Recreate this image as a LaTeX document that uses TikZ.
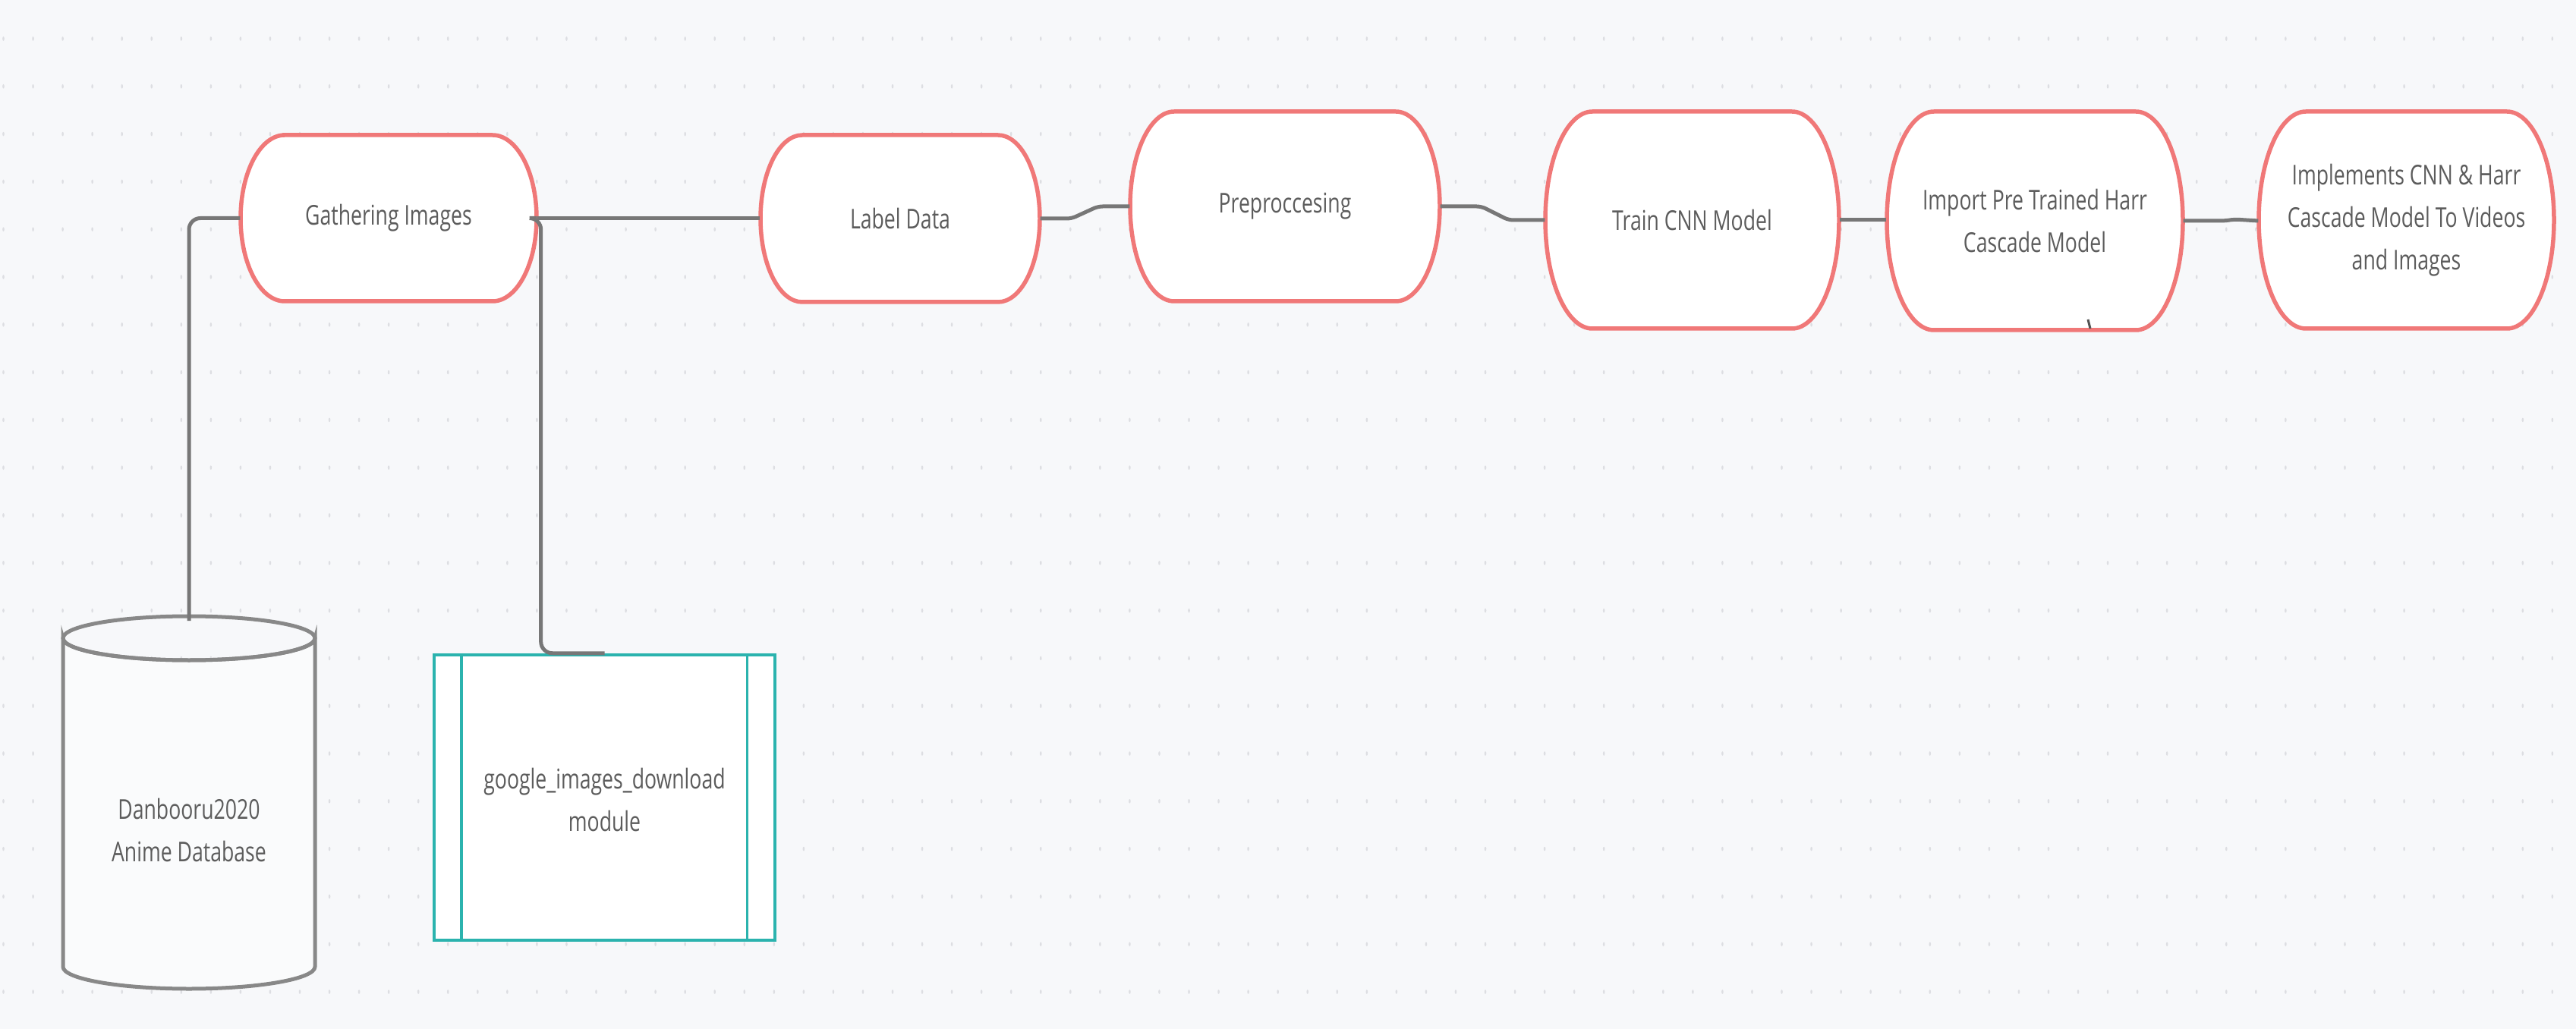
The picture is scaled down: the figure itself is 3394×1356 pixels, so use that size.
\documentclass[tikz,border=0pt]{standalone}
\usepackage{fontspec}
\setmainfont{Open Sans}[FakeStretch=0.74]
\definecolor{bgc}{HTML}{F7F8FA}
\definecolor{dotc}{HTML}{DDDEE2}
\definecolor{redc}{HTML}{F07878}
\definecolor{connc}{HTML}{777777}
\definecolor{cylc}{HTML}{888888}
\definecolor{tealc}{HTML}{2BB3AE}
\definecolor{txtc}{HTML}{5C5C5C}
\newcommand{\stadium}[7]{%
  \pgfmathsetmacro\sxl{#2-#4/2}%
  \pgfmathsetmacro\sxr{#2+#4/2}%
  \pgfmathsetmacro\syt{#3-#5/2}%
  \pgfmathsetmacro\syb{#3+#5/2}%
  \pgfmathsetmacro\shh{#5/2}%
  \path[stadline] (\sxl+#6,\syt) -- (\sxr-#6,\syt)
     arc[start angle=-90,end angle=90,x radius=#6,y radius=\shh]
     -- (\sxl+#6,\syb)
     arc[start angle=90,end angle=270,x radius=#6,y radius=\shh] -- cycle;
  \node[lbl, minimum width=#4*0.1mm, minimum height=#5*0.1mm] (#1) at (#2,#3) {#7};
}
\begin{document}
\begin{tikzpicture}[x=0.1mm,y=-0.1mm,
  conn/.style={draw=connc, line width=0.5mm, rounded corners=1.5mm},
  stadline/.style={draw=redc, fill=white, line width=0.55mm},
  lbl/.style={text=txtc, font=\fontsize{10.24}{15.9}\selectfont, align=center, inner sep=0pt},
  cylst/.style={draw=cylc, fill=bgc!60!white, line width=0.5mm},
  modbox/.style={draw=tealc, fill=white, line width=0.45mm, inner sep=0pt},
  modline/.style={draw=tealc, line width=0.35mm},
]
\useasboundingbox (0,0) rectangle (3394,1356);
\fill[bgc] (0,0) rectangle (3394,1356);
% dot grid
\foreach \i in {0,...,86}{
  \foreach \j in {0,...,20}{
    \fill[dotc] (4.5+39.05*\i,51+62.8*\j) ellipse [x radius=1.3, y radius=2.8];
  }
}
% process boxes
\stadium{gath}{512}{287.5}{390}{219}{58}{Gathering Images}
\stadium{label}{1186}{288}{368}{220}{55}{Label Data}
\stadium{prep}{1693}{272}{408}{250}{58}{Preproccesing}
\stadium{train}{2229.5}{290}{387}{286}{62}{Train CNN Model}
\stadium{imp}{2681}{291}{390}{288}{62}{Import Pre Trained Harr\\Cascade Model}
\stadium{impl}{3170.5}{290}{389}{286}{62}{Implements CNN \& Harr\\Cascade Model To Videos\\and Images}
% database cylinder
\path[cylst] (83,841) -- (83,1274)
   arc[start angle=180,end angle=0,x radius=166,y radius=29]
   -- (415,841)
   arc[start angle=0,end angle=180,x radius=166,y radius=29] -- cycle;
\draw[cylc, line width=0.5mm] (249,841) ellipse [x radius=166, y radius=29];
\node[lbl] (cyl) at (249,1094) {Danbooru2020\\Anime Database};
\coordinate (cyltop) at (249,818);
% module box
\node[modbox, minimum width=449*0.1mm, minimum height=376*0.1mm] (goog) at (796.5,1051) {};
\draw[modline] ([xshift=3.8mm]goog.north west) -- ([xshift=3.8mm]goog.south west);
\draw[modline] ([xshift=-3.9mm]goog.north east) -- ([xshift=-3.9mm]goog.south east);
\node[lbl] (googtxt) at (796.5,1054) {google\_images\_download\\module};
% connectors
\draw[conn] (gath.west) -| (cyltop);
\draw[conn] (gath.east) -- ++(5,0) |- (goog.north);
\draw[conn] (gath.east) -- (gath.east -| label.west);
\draw[conn, rounded corners=0.6mm] (label.east) -- ++(41,0) -- ++(35,-16) -- (prep.west);
\draw[conn, rounded corners=0.6mm] (prep.east) -- ++(54,0) -- ++(36,18) -- (train.west);
\draw[conn] (train.east) -- (train.east -| imp.west);
\draw[conn, rounded corners=0.6mm] (imp.east) -- ++(55,0) -- ++(12,-2) -- (imp.east -| impl.west);
% small stray mark on import box
\draw[connc!70!black, line width=0.3mm] (2751,421) -- (2754,433);
\end{tikzpicture}
\end{document}
